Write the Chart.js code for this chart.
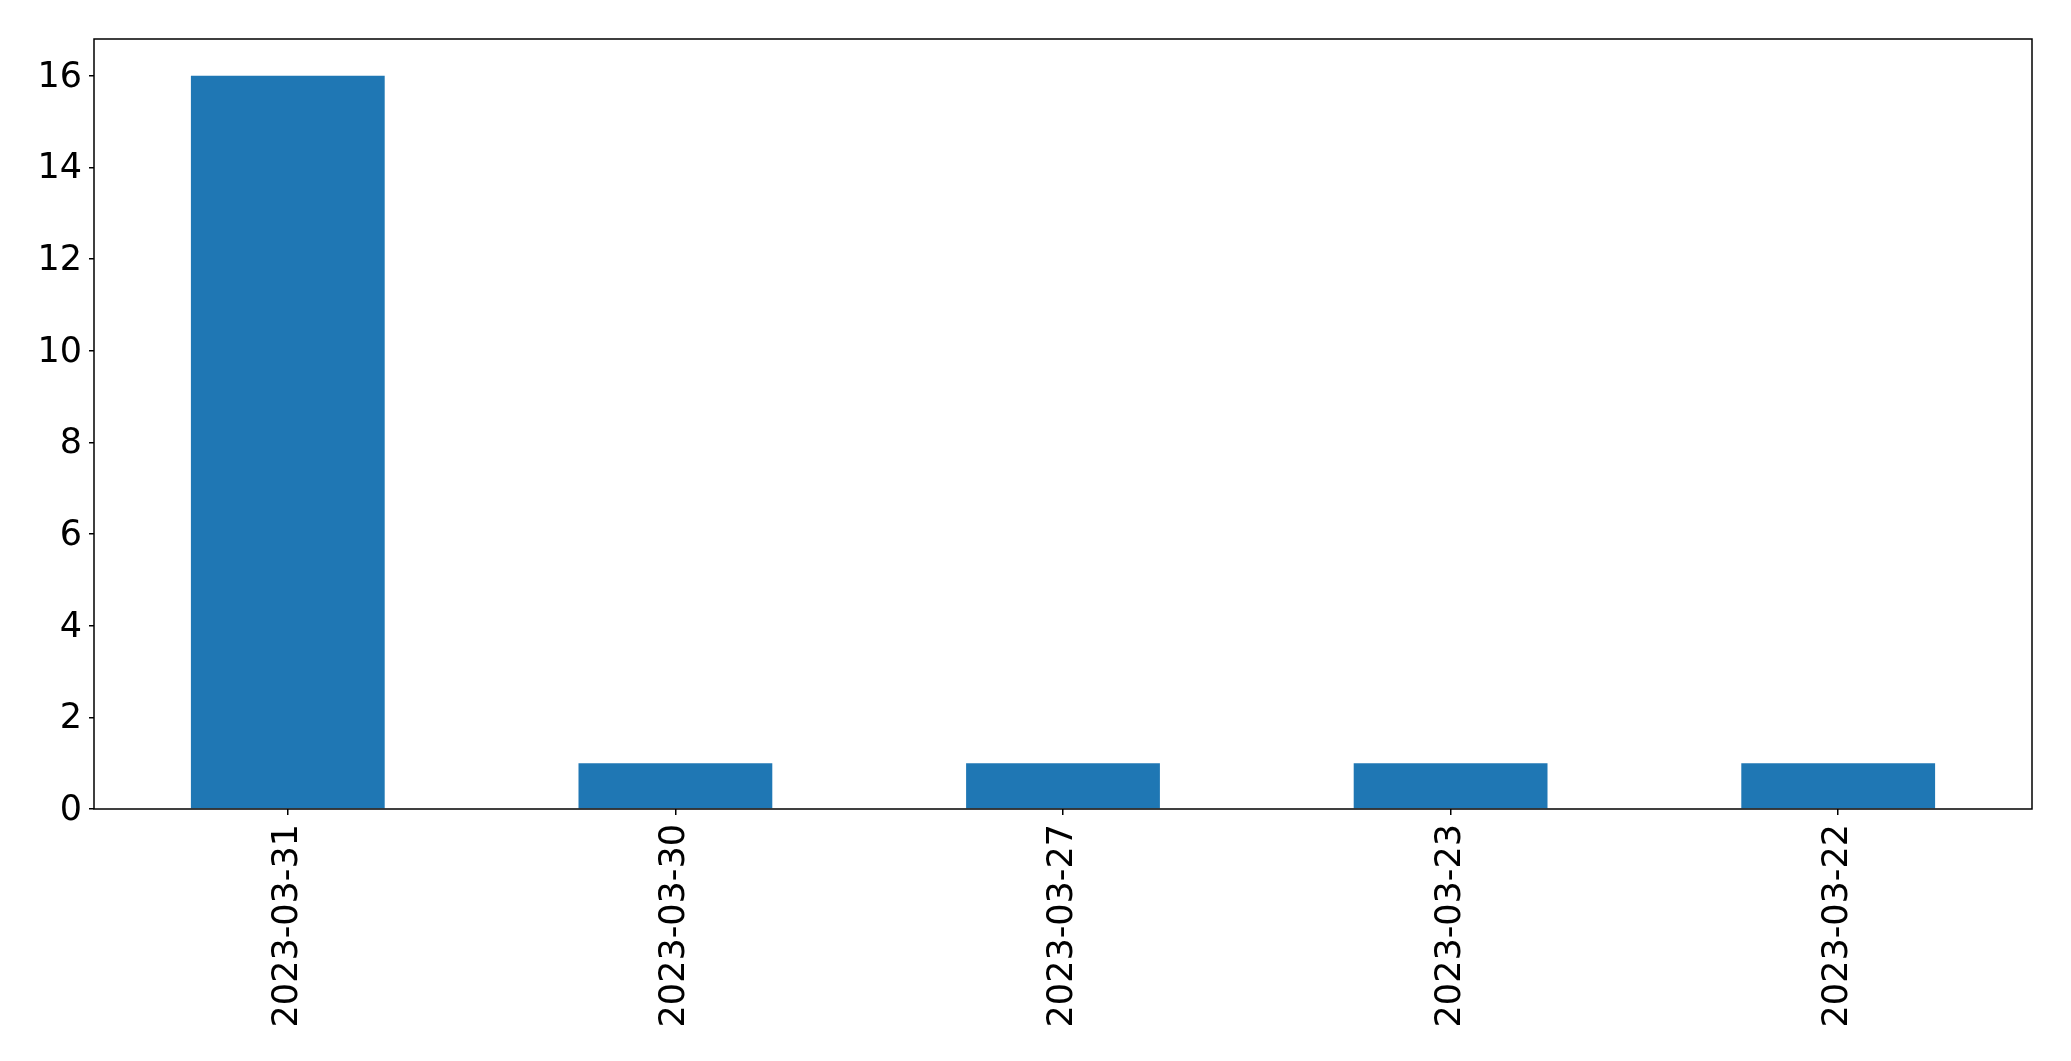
<!DOCTYPE html>
<html>
<head>
<meta charset="utf-8">
<script src="https://cdn.jsdelivr.net/npm/chart.js@4/dist/chart.umd.min.js"></script>
<style>
  html, body { margin: 0; padding: 0; background: #fff; }
  #wrap { width: 2071px; height: 1061px; }
</style>
</head>
<body>
<div id="wrap"><canvas id="myChart" width="2071" height="1061"></canvas></div>
<script>
// data
const dates = ["2023-03-31", "2023-03-30", "2023-03-27", "2023-03-23", "2023-03-22"];
const counts = [16, 1, 1, 1, 1];
const yTicks = [0, 2, 4, 6, 8, 10, 12, 14, 16];

// draws the frame round the plot area (matplotlib style)
const frame = {
  id: "frame",
  afterDatasetsDraw(chart) {
    const a = chart.chartArea;
    const ctx = chart.ctx;
    ctx.save();
    ctx.strokeStyle = "#000";
    ctx.lineWidth = 1.5;
    ctx.strokeRect(a.left, a.top, a.right - a.left, a.bottom - a.top);
    ctx.restore();
  },
};

const config = {
  type: "bar",
  data: {
    labels: dates,
    datasets: [
      {
        data: counts,
        backgroundColor: "#1f77b4",
        borderWidth: 0,
        barPercentage: 0.5,
        categoryPercentage: 1,
      },
    ],
  },
  options: {
    responsive: false,
    animation: false,
    layout: { padding: { left: 0, top: 39, right: 39, bottom: 0 } },
    plugins: { legend: { display: false }, tooltip: { enabled: false } },
    scales: {
      x: {
        offset: true,
        grid: { offset: false, drawOnChartArea: false, tickLength: 6, color: "#000", lineWidth: 1.5 },
        border: { display: false },
        ticks: {
          minRotation: 90,
          maxRotation: 90,
          padding: 9,
          color: "#000",
          font: { family: "DejaVu Sans", size: 35 },
        },
        afterFit(scale) {
          scale.height = 252;
        },
      },
      y: {
        min: 0,
        max: 16.8,
        grid: { drawOnChartArea: false, tickLength: 5, color: "#000", lineWidth: 1.5 },
        border: { display: false },
        ticks: {
          stepSize: 2,
          includeBounds: false,
          padding: 7,
          labelOffset: 2,
          color: "#000",
          font: { family: "DejaVu Sans", size: 35 },
        },
        afterBuildTicks(scale) {
          scale.ticks = yTicks.map((v) => ({ value: v }));
        },
        afterFit(scale) {
          scale.width = 94;
        },
      },
    },
  },
  plugins: [frame],
};

const myChart = new Chart(document.getElementById("myChart"), config);
</script>
</body>
</html>
